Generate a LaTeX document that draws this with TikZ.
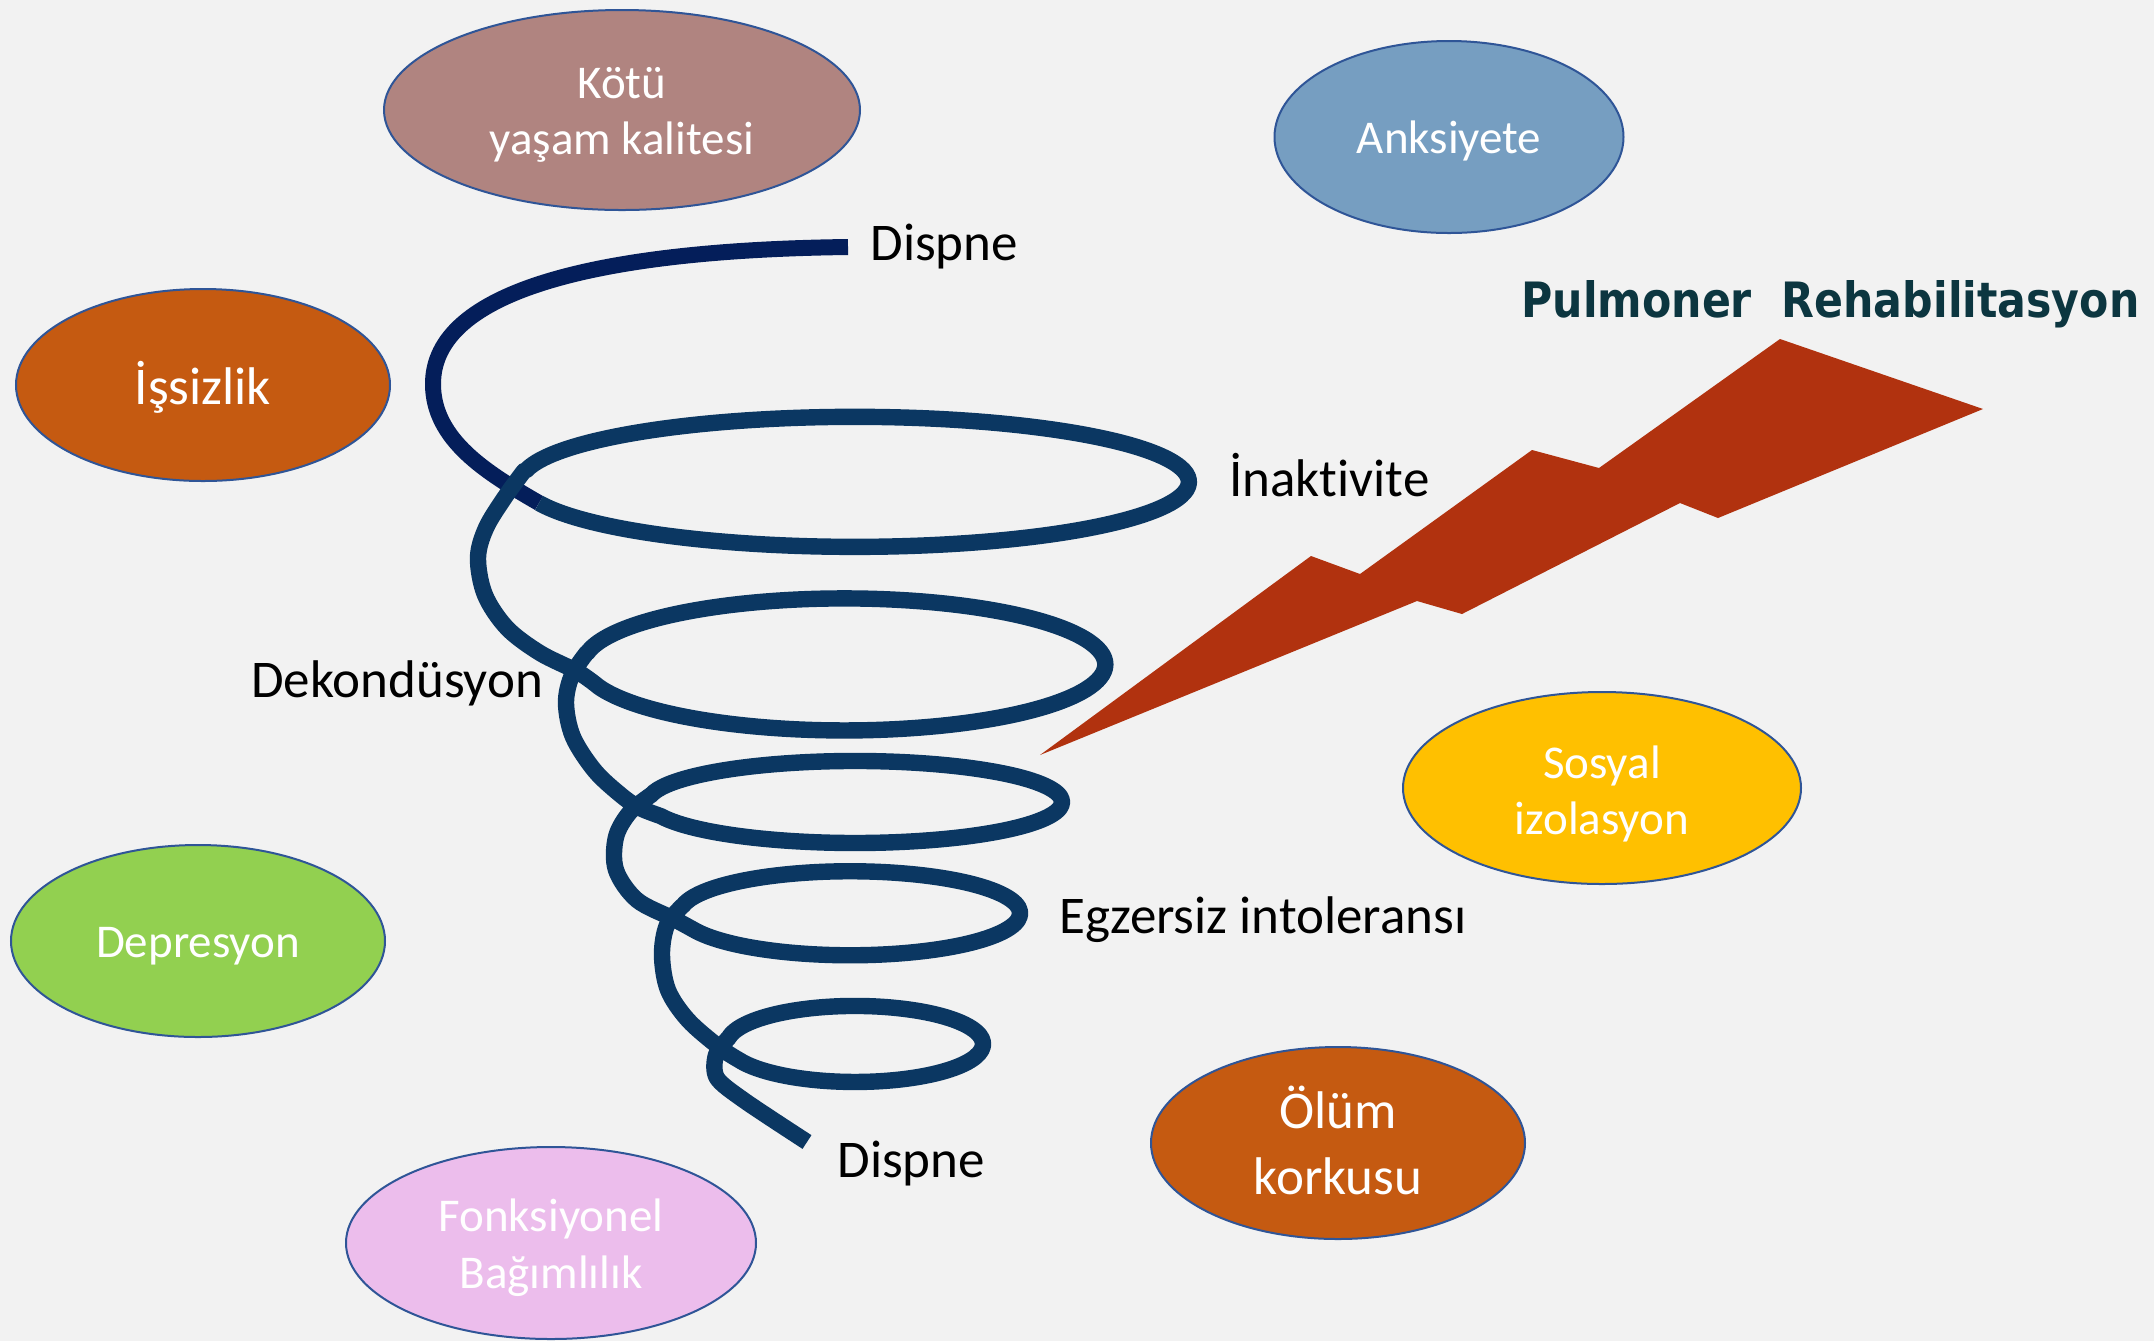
\documentclass[tikz,border=0pt]{standalone}
\usepackage{fontspec}
\setmainfont{Carlito}[Ligatures=NoCommon]
\newfontfamily\titlefont{DejaVu Sans}
\usetikzlibrary{shapes.geometric}
\definecolor{bg}{HTML}{F2F2F2}
\definecolor{ringblue}{HTML}{0B3762}
\definecolor{navy}{HTML}{041E5A}
\definecolor{bolt}{HTML}{B1320F}
\definecolor{titlecol}{HTML}{0C3640}
\definecolor{bubbleline}{HTML}{2F5597}
\definecolor{kotu}{HTML}{B08480}
\definecolor{anks}{HTML}{769EC1}
\definecolor{rust}{HTML}{C55A11}
\definecolor{depr}{HTML}{92D050}
\definecolor{sosy}{HTML}{FFC000}
\definecolor{fonk}{HTML}{ECBDEC}
\begin{document}
\begin{tikzpicture}[x=0.5pt,y=-0.5pt,
  bubble/.style={ellipse, draw=bubbleline, line width=1pt, inner sep=0pt},
  btext/.style={text=white, align=center, inner sep=0pt},
  smalltext/.style={font=\fontsize{23.5}{28.2}\selectfont},
  bigtext/.style={font=\fontsize{26.5}{33}\selectfont},
  lbl/.style={anchor=base west, inner sep=0pt, font=\fontsize{26.5}{31}\selectfont, text=black},
  helix/.style={draw=ringblue, line width=8.2pt, line cap=butt, line join=round},
  toph/.style={draw=navy, line width=8pt, line cap=butt}]
\fill[bg] (0,0) rectangle (2154,1341);
\useasboundingbox (0,0) rectangle (2154,1341);

% bubbles
\node[bubble, fill=kotu, minimum width=238pt, minimum height=100pt] (kotu) at (622,110) {};
\node[btext, smalltext] (kotu-t) at ([yshift=-2.5pt]kotu.center) {Kötü\\yaşam kalitesi};
\node[bubble, fill=anks, minimum width=174.5pt, minimum height=96pt] (anks) at (1449,137) {};
\node[btext, smalltext] (anks-t) at ([yshift=-2.2pt]anks.center) {Anksiyete};
\node[bubble, fill=rust, minimum width=187pt, minimum height=96pt] (issiz) at (203,385) {};
\node[btext, bigtext] (issiz-t) at ([yshift=-1.4pt]issiz.center) {İşsizlik};
\node[bubble, fill=depr, minimum width=187pt, minimum height=96pt] (depr) at (198,941) {};
\node[btext, smalltext] (depr-t) at ([yshift=-2.7pt]depr.center) {Depresyon};
\node[bubble, fill=sosy, minimum width=199pt, minimum height=96pt] (sosy) at (1602,788) {};
\node[btext, smalltext] (sosy-t) at ([yshift=-2.9pt]sosy.center) {Sosyal\\izolasyon};
\node[bubble, fill=rust, minimum width=187pt, minimum height=96pt] (olum) at (1338,1143) {};
\node[btext, bigtext] (olum-t) at ([yshift=1.5pt]olum.center) {Ölüm\\korkusu};
\node[bubble, fill=fonk, minimum width=205pt, minimum height=96pt] (fonk) at (551,1243) {};
\node[btext, smalltext] (fonk-t) at ([yshift=-2.4pt]fonk.center) {Fonksiyonel\\Bağımlılık};

% lightning bolt
\fill[bolt, line join=round] (1040,755) -- (1311,556) -- (1360,574) -- (1532,450) -- (1599,468)
  -- (1780,339) -- (1983,409) -- (1718,518) -- (1680,503) -- (1462,614) -- (1417,601) -- cycle;

% spiral: top strand
\coordinate (top) at (848,247);
\coordinate (e1) at (539,503);
\draw[toph] (top) .. controls (600,250) and (433,290) .. (433,384)
  .. controls (433,440) and (487,473) .. (e1);

% spiral: helix turns
\draw[helix] (e1)
  arc[start angle=199, end angle=530, x radius=167pt, y radius=32.5pt]
  -- plot[smooth, tension=0.55] coordinates {(524,471) (505,497) (486,528) (478,558) (485,595) (507,628) (540,653) (578,672) (599,687)}
  arc[start angle=200, end angle=530, x radius=130.5pt, y radius=33pt]
  -- plot[smooth, tension=0.55] coordinates {(587,652.5) (572,675) (566,703) (573,737) (595,771) (622,796) (640,808) (660.5,816)}
  arc[start angle=200, end angle=530, x radius=103.5pt, y radius=20.5pt]
  -- plot[smooth, tension=0.55] coordinates {(651,795) (630,812) (616,837) (616,870) (637,900) (674,919) (696,931)}
  arc[start angle=205, end angle=530, x radius=85pt, y radius=21pt]
  -- plot[smooth, tension=0.55] coordinates {(682.6,905.7) (667,925) (662,955) (668,990) (688,1020) (719,1047) (739,1060)}
  arc[start angle=205, end angle=530, x radius=64pt, y radius=19pt]
  -- plot[smooth, tension=0.5] coordinates {(729,1037.4) (716,1055) (717,1078) (745,1101) (807,1142)};

% labels
\node[lbl] (d1) at (870,260) {Dispne};
\node[lbl] (inak) at (1229,496) {İnaktivite};
\node[lbl] (dek) at (251,697) {Dekondüsyon};
\node[lbl] (egz) at (1059,933) {Egzersiz intoleransı};
\node[lbl] (d2) at (837,1177) {Dispne};

% title
\node[anchor=base west, inner sep=0pt, text=titlecol] (title) at (1521,317)
  {\resizebox{309pt}{18.5pt}{\titlefont\bfseries Pulmoner\ \ Rehabilitasyon}};
\end{tikzpicture}
\end{document}
